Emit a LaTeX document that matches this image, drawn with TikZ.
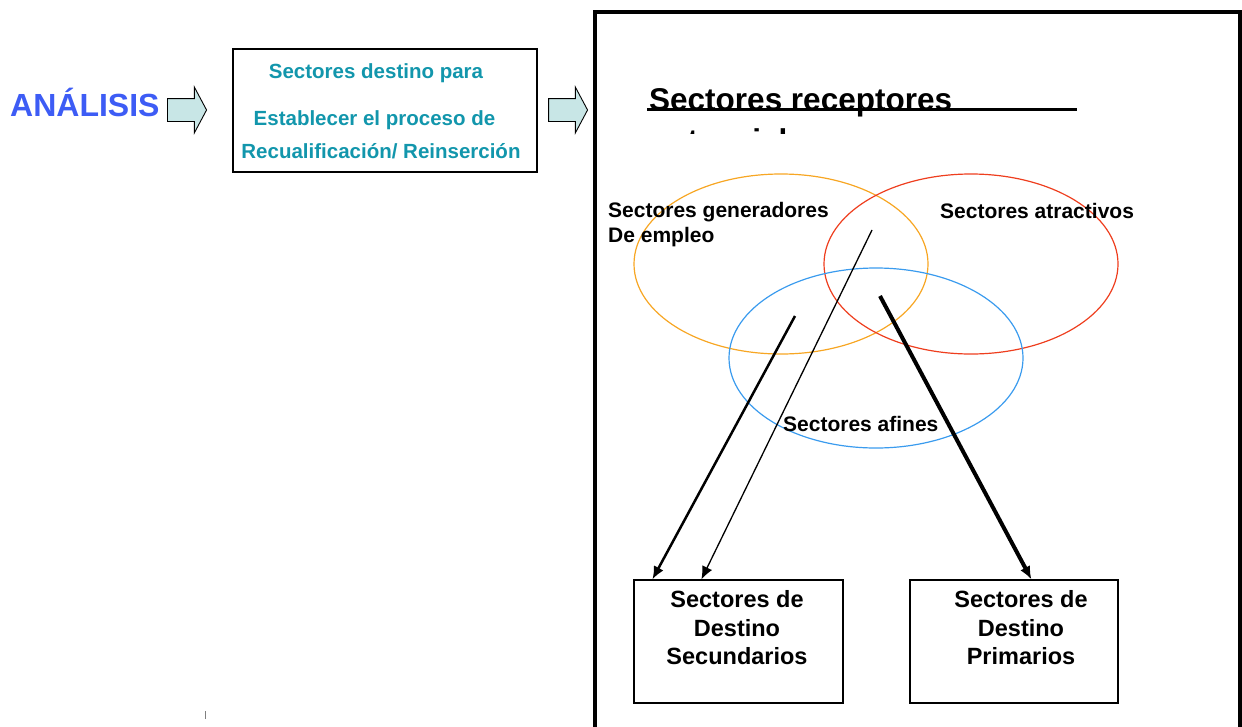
\documentclass[tikz,border=0pt]{standalone}
\usepackage{fontspec}
\setmainfont{Liberation Sans}
\usetikzlibrary{shapes.geometric,shapes.arrows,arrows.meta}
\definecolor{analisis}{RGB}{61,92,245}
\definecolor{destino}{RGB}{18,150,172}
\definecolor{flecha}{RGB}{200,230,230}
\definecolor{generadores}{RGB}{247,166,35}
\definecolor{atractivos}{RGB}{238,62,30}
\definecolor{afines}{RGB}{58,155,238}
\tikzstyle{caja}=[draw, line width=1.2pt, inner sep=0pt]
\tikzstyle{flechabloque}=[single arrow, draw, fill=flecha, line width=0.9pt, minimum height=39pt, minimum width=45pt, single arrow head extend=11.5pt, single arrow tip angle=124, inner xsep=0pt, inner ysep=11pt]
\tikzstyle{sector}=[ellipse, draw, line width=1.2pt, minimum width=294pt, minimum height=180pt, inner sep=0pt]
\tikzstyle{texto}=[inner sep=0pt, font=\bfseries\fontsize{21}{25}\selectfont]
\tikzstyle{destinotxt}=[inner sep=0pt, anchor=base, text=destino, font=\bfseries\fontsize{20.5}{25}\selectfont]
\tikzstyle{cajatxt}=[inner sep=0pt, align=center, font=\bfseries\fontsize{23.5}{28.5}\selectfont]
\tikzstyle{titulo}=[inner sep=0pt, anchor=base west, font=\bfseries\fontsize{31.5}{40}\selectfont]
\tikzstyle{flujo}=[-{Latex[length=13pt,width=11pt]}]

\begin{document}
\begin{tikzpicture}[x=1pt,y=-1pt]
  \useasboundingbox (0,0) rectangle (1242,726);
  \draw (10,116) node[anchor=base west, inner sep=0pt, text=analisis, font=\bfseries\fontsize{32}{36}\selectfont] (analisis) {ANÁLISIS};
  \draw (184,110) node[flechabloque] (F1) {};

  \draw (385,110.5) node[caja, minimum width=304pt, minimum height=123pt] (proceso) {};
  \draw (376,78) node[destinotxt] (P1) {Sectores destino para};
  \draw (374.5,125) node[destinotxt] (P2) {Establecer el proceso de};
  \draw (381,158) node[destinotxt] (P3) {Recualificación/ Reinserción};
  \draw (565,110) node[flechabloque] (F2) {};

  %% Marco
  \draw[line width=3.5pt] (595,12) rectangle (1240,745);
  \draw (649,110) node[titulo] (receptores) {Sectores receptores};
  \begin{scope}
    \clip (600,20) rectangle (1235,133);
    \draw (649,151) node[titulo] (potenciales) {potenciales};
  \end{scope}
  \draw[line width=2.2pt] (647,109.5) -- (1077,109.5);

  %% Sectores
  \draw (781,264) node[sector, color=generadores] (gen) {};
  \draw (971,264) node[sector, color=atractivos] (atr) {};
  \draw (876,358) node[sector, color=afines] (afi) {};
  \draw (608,202.5) node[texto, anchor=north west, align=left] (Tgen) {Sectores generadores\\[-0.5pt]De empleo};
  \draw (940,218) node[texto, anchor=base west] (Tatr) {Sectores atractivos};
  \draw (783,431) node[texto, anchor=base west] (Tafi) {Sectores afines};

  \draw (738.5,641.5) node[caja, minimum width=209pt, minimum height=123pt] (secA) {};
  \draw (1014,641.5) node[caja, minimum width=208pt, minimum height=123pt] (secB) {};
  \draw (737,628) node[cajatxt] (TsecA) {Sectores de\\Destino\\Secundarios};
  \draw (1021,628) node[cajatxt] (TsecB) {Sectores de\\Destino\\Primarios};

  \coordinate (g1) at (795,316);
  \coordinate (g2) at (872,230);
  \coordinate (g3) at (880,296);
  \draw[flujo, line width=2.5pt] (g1) -- ([xshift=19pt]secA.north west);
  \draw[flujo, line width=1.3pt] (g2) -- ([xshift=68pt]secA.north west);
  \draw[flujo, line width=4pt] (g3) -- ([xshift=122pt]secB.north west);

  \draw[gray, line width=0.8pt] (205,711) -- (205,719);
\end{tikzpicture}
\end{document}
